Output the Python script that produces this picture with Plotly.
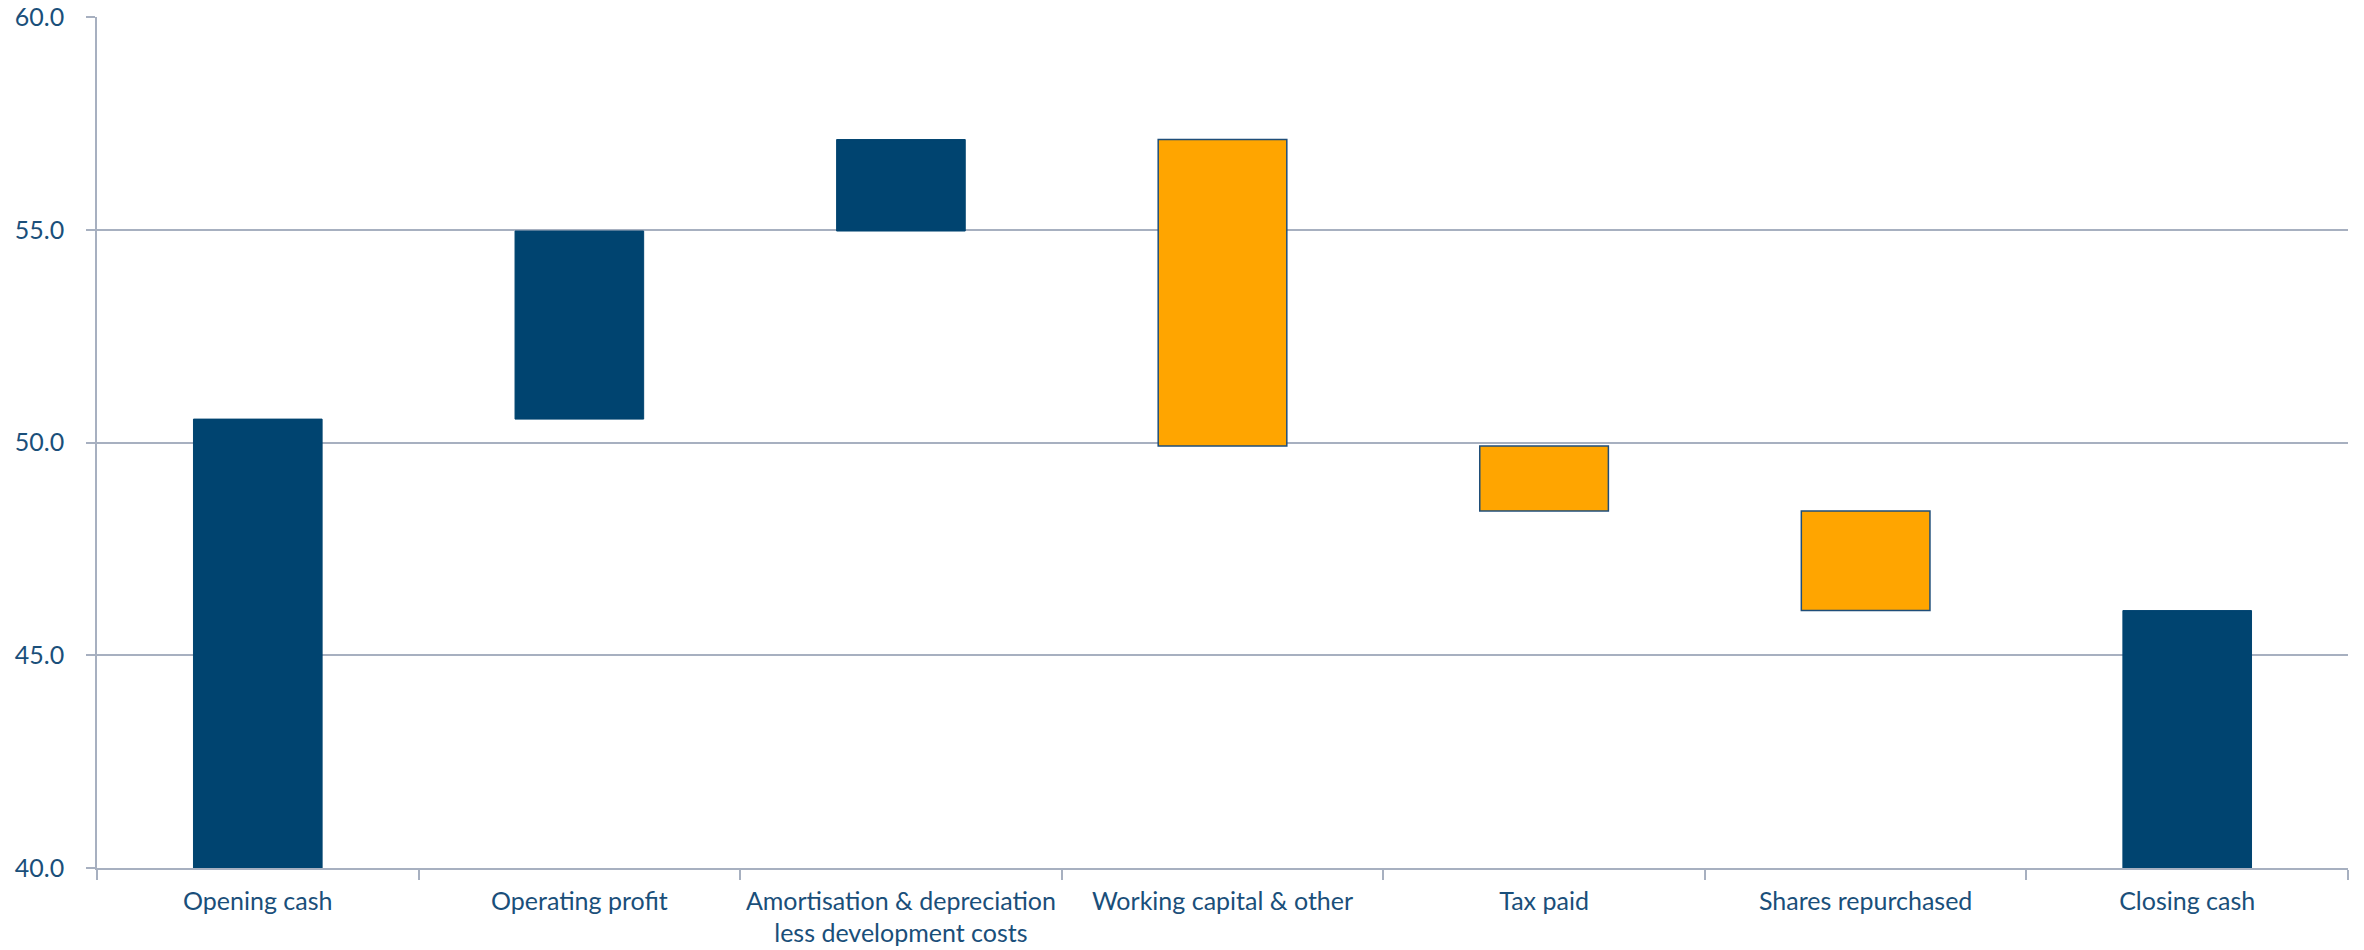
import plotly.graph_objects as go

categories = [
    "Opening cash",
    "Operating profit",
    "Amortisation & depreciation<br>less development costs",
    "Working capital & other",
    "Tax paid",
    "Shares repurchased",
    "Closing cash",
]
measures = ["absolute", "relative", "relative", "relative", "relative", "relative", "total"]
values = [50.55, 4.42, 2.15, -7.20, -1.53, -2.34, 0]

y_ticks = [40, 45, 50, 55, 60]

BLUE = "#004470"
ORANGE = "#FFA500"
TEXT = "#1A4F7A"
GRID = "#A7B0C0"

fig = go.Figure(
    go.Waterfall(
        x=categories,
        y=values,
        measure=measures,
        increasing=dict(marker=dict(color=BLUE, line=dict(color=BLUE, width=1))),
        decreasing=dict(marker=dict(color=ORANGE, line=dict(color="#1F4E79", width=1.5))),
        totals=dict(marker=dict(color=BLUE, line=dict(color=BLUE, width=1))),
        connector=dict(visible=False),
        hoverinfo="x+y",
    )
)

fig.update_layout(
    width=2364,
    height=950,
    margin=dict(l=97, r=16, t=17, b=82),
    plot_bgcolor="white",
    paper_bgcolor="white",
    showlegend=False,
    waterfallgap=0.6,
    font=dict(family="Lato, sans-serif", size=25, color=TEXT),
)

fig.update_xaxes(
    type="category",
    automargin=False,
    showline=True,
    linecolor=GRID,
    linewidth=1.5,
    ticks="outside",
    tickson="boundaries",
    ticklen=10,
    tickcolor=GRID,
    tickwidth=1.5,
    showgrid=False,
    ticklabelstandoff=10,
    ticklabeloverflow="allow",
    tickfont=dict(size=25, color=TEXT),
)

fig.update_yaxes(
    range=[40, 60],
    automargin=False,
    tickvals=y_ticks,
    tickformat=".1f",
    showline=True,
    linecolor=GRID,
    linewidth=1.5,
    ticks="outside",
    ticklen=9,
    tickcolor=GRID,
    tickwidth=1.5,
    showgrid=True,
    gridcolor=GRID,
    gridwidth=1.5,
    zeroline=False,
    ticklabelstandoff=17,
    ticklabeloverflow="allow",
    tickfont=dict(size=25, color=TEXT),
)

fig.write_html(
    "out.html",
    config={"displayModeBar": False},
    post_script="document.body.style.margin='0';document.body.style.overflow='hidden';",
)
